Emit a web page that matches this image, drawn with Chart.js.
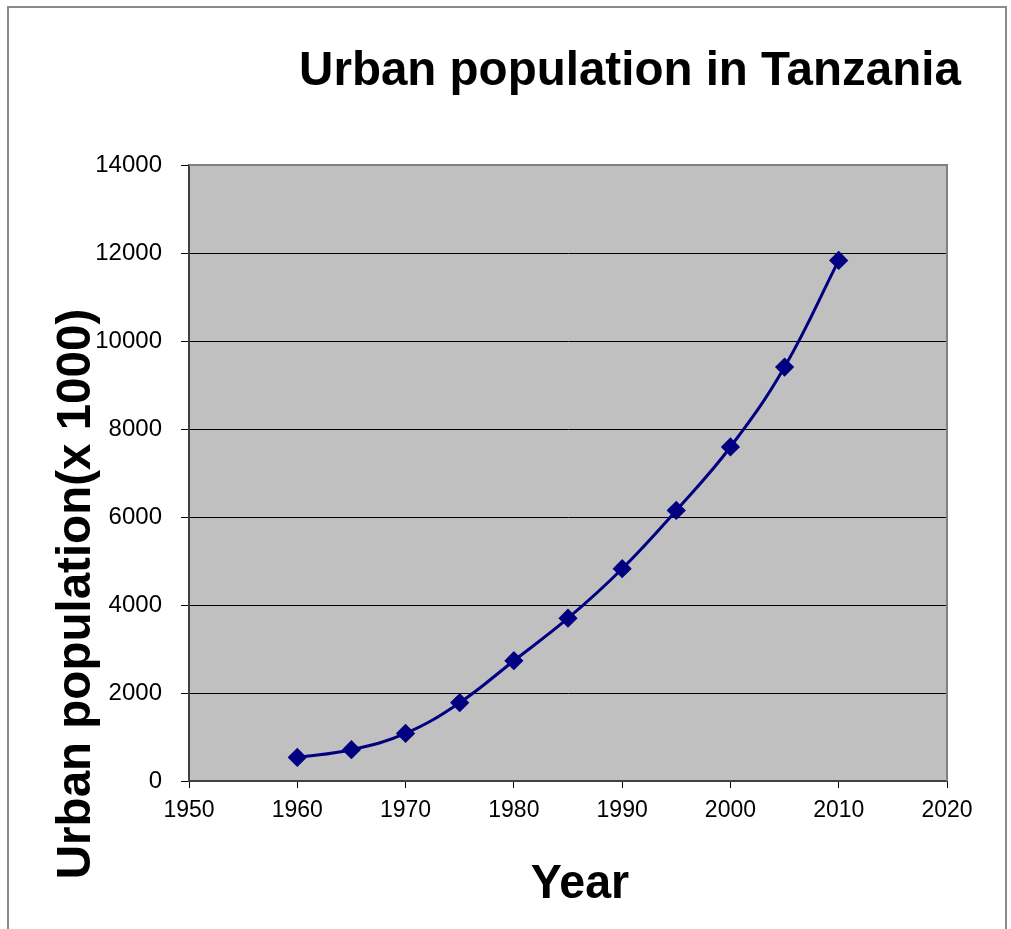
<!DOCTYPE html>
<html>
<head>
<meta charset="utf-8">
<title>Urban population in Tanzania</title>
<script src="https://cdn.jsdelivr.net/npm/chart.js@4/dist/chart.umd.min.js"></script>
<style>
  html, body { margin: 0; padding: 0; background: #fff; }
  #wrap { width: 1011px; height: 929px; position: relative; }
</style>
</head>
<body>
<div id="wrap"><canvas id="urbanChart"></canvas></div>
<script>
// Urban population, thousands
const years = [1960, 1965, 1970, 1975, 1980, 1985, 1990, 1995, 2000, 2005, 2010];
const urbanPop = [536, 711, 1082, 1780, 2734, 3700, 4825, 6150, 7591, 9409, 11832];

const chartTitle = 'Urban population in Tanzania';
const xTitle = 'Year';
const yTitle = 'Urban population(x 1000)';

const FONT = '"Liberation Sans", Arial, sans-serif';

// bold text squeezed a little horizontally, like the old office fonts
function drawLabel(ctx, text, x, y, size, squeeze, angle) {
  ctx.save();
  ctx.translate(x, y);
  if (angle) ctx.rotate(angle);
  ctx.scale(squeeze, 1);
  ctx.font = 'bold ' + size + 'px ' + FONT;
  ctx.textAlign = 'center';
  ctx.textBaseline = 'alphabetic';
  ctx.fillStyle = '#000';
  ctx.fillText(text, 0, 0);
  ctx.restore();
}

// grey plot area, outer frame and the big titles
const decorations = {
  id: 'decorations',
  beforeDraw(chart) {
    const { ctx, chartArea: a } = chart;
    ctx.save();
    ctx.fillStyle = '#c0c0c0';
    ctx.fillRect(a.left, a.top, a.right - a.left, a.bottom - a.top);

    ctx.strokeStyle = '#8a8a8a';
    ctx.lineWidth = 2;
    ctx.beginPath();
    ctx.moveTo(8, 940);
    ctx.lineTo(8, 7);
    ctx.lineTo(1006, 7);
    ctx.lineTo(1006, 940);
    ctx.stroke();
    ctx.restore();
  },
  afterDraw(chart) {
    const { ctx, chartArea: a } = chart;
    ctx.save();
    ctx.strokeStyle = '#808080';
    ctx.lineWidth = 2;
    ctx.beginPath();
    ctx.moveTo(a.left, a.top);
    ctx.lineTo(a.right, a.top);
    ctx.lineTo(a.right, a.bottom);
    ctx.stroke();
    ctx.restore();

    drawLabel(ctx, chartTitle, 630, 85, 49, 0.97);
    drawLabel(ctx, xTitle, 580, 898, 49, 0.95);
    drawLabel(ctx, yTitle, 90, 594, 49, 0.97, -Math.PI / 2);
  }
};

const ctx = document.getElementById('urbanChart').getContext('2d');
new Chart(ctx, {
  type: 'line',
  data: {
    datasets: [{
      label: 'Urban population',
      data: years.map((y, i) => ({ x: y, y: urbanPop[i] })),
      borderColor: '#000080',
      backgroundColor: '#000080',
      borderWidth: 3,
      pointStyle: 'rectRot',
      pointRadius: 7.5,
      pointHoverRadius: 7.5,
      tension: 0.4,
      fill: false
    }]
  },
  options: {
    responsive: true,
    maintainAspectRatio: false,
    animation: false,
    layout: { padding: { left: 0, top: 165, right: 64, bottom: 0 } },
    plugins: {
      legend: { display: false },
      tooltip: { enabled: false },
      title: { display: false }
    },
    scales: {
      x: {
        type: 'linear',
        min: 1950,
        max: 2020,
        afterFit: s => { s.height = 148; },
        ticks: {
          stepSize: 10,
          color: '#000',
          padding: 9,
          maxRotation: 0,
          font: { family: FONT, size: 23 },
          callback: v => String(v)
        },
        grid: {
          drawOnChartArea: false,
          drawTicks: true,
          tickLength: 7,
          color: '#000',
          lineWidth: 1
        },
        border: { color: '#404040', width: 2 }
      },
      y: {
        min: 0,
        max: 14000,
        afterFit: s => { s.width = 189; },
        ticks: {
          stepSize: 2000,
          color: '#000',
          padding: 19,
          font: { family: FONT, size: 24 },
          callback: v => String(v)
        },
        grid: {
          drawTicks: true,
          tickLength: 8,
          color: ctx => (ctx.tick && (ctx.tick.value === 0 || ctx.tick.value === 14000)) ? 'rgba(0,0,0,0)' : '#000',
          tickColor: '#000',
          lineWidth: 1
        },
        border: { color: '#404040', width: 2 }
      }
    }
  },
  plugins: [decorations]
});
</script>
</body>
</html>
